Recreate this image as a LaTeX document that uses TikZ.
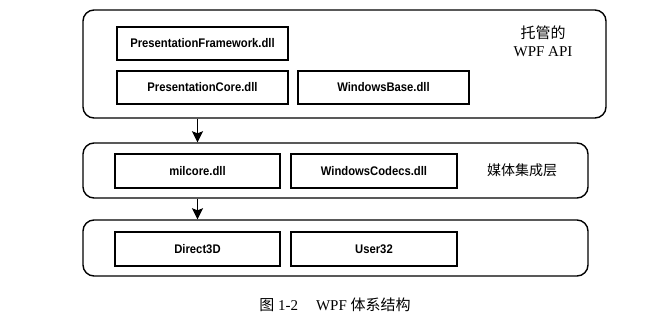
\documentclass[tikz,border=0pt]{standalone}
\usepackage{fontspec}
\setmainfont{Liberation Serif}
\newfontfamily\boxfont[FakeStretch=0.9]{Liberation Sans Bold}
\newfontfamily\cjk{Noto Sans CJK SC}
\usetikzlibrary{arrows.meta}
\begin{document}
\begin{tikzpicture}[x=1pt,y=-1pt,
  layer/.style={draw, line width=1.4pt, rounded corners=11pt, inner sep=0pt},
  dll/.style={draw, line width=1.2pt, inner sep=0pt, minimum height=33pt,
    font=\boxfont\fontsize{12.5}{14}\selectfont},
  flow/.style={line width=1.8pt, -{Stealth[length=11pt,width=11pt,inset=2pt]}},
  lbl/.style={inner sep=0pt, font=\fontsize{15}{17}\selectfont}]
\useasboundingbox (0,0) rectangle (654,327);
% layers
\node[layer, minimum width=523pt, minimum height=108pt] (api) at (344.5,64) {};
\node[layer, minimum width=505pt, minimum height=55pt] (media) at (335.5,170.5) {};
\node[layer, minimum width=505pt, minimum height=56pt] (os) at (335.5,248) {};
% dll boxes
\node[dll, minimum width=171pt] (pf) at (202.5,43.5) {PresentationFramework.dll};
\node[dll, minimum width=171pt] (pc) at (202.5,87.5) {PresentationCore.dll};
\node[dll, minimum width=171pt] (wb) at (383.5,87.5) {WindowsBase.dll};
\node[dll, minimum width=165pt, minimum height=34pt] (mil) at (197.5,171) {milcore.dll};
\node[dll, minimum width=166pt, minimum height=34pt] (wc) at (374,171) {WindowsCodecs.dll};
\node[dll, minimum width=165pt, minimum height=34pt] (d3d) at (197.5,249) {Direct3D};
\node[dll, minimum width=166pt, minimum height=34pt] (u32) at (374,249) {User32};
% labels
\node[lbl] (t1) at (543,33) {\cjk 托管的};
\node[lbl] (t2) at (543,52) {WPF API};
\node[lbl, font=\fontsize{14}{16}\selectfont] (t3) at (522,170) {\cjk 媒体集成层};
\node[inner sep=0pt, font=\fontsize{15}{17}\selectfont] (cap) at (335,305) {{\cjk 图} 1-2\hspace{1.2em}WPF {\cjk 体系结构}};
% arrows
\draw[flow] (api.south -| mil.center) -- (media.north -| mil.center);
\draw[flow] (media.south -| mil.center) -- (os.north -| mil.center);
\end{tikzpicture}
\end{document}
